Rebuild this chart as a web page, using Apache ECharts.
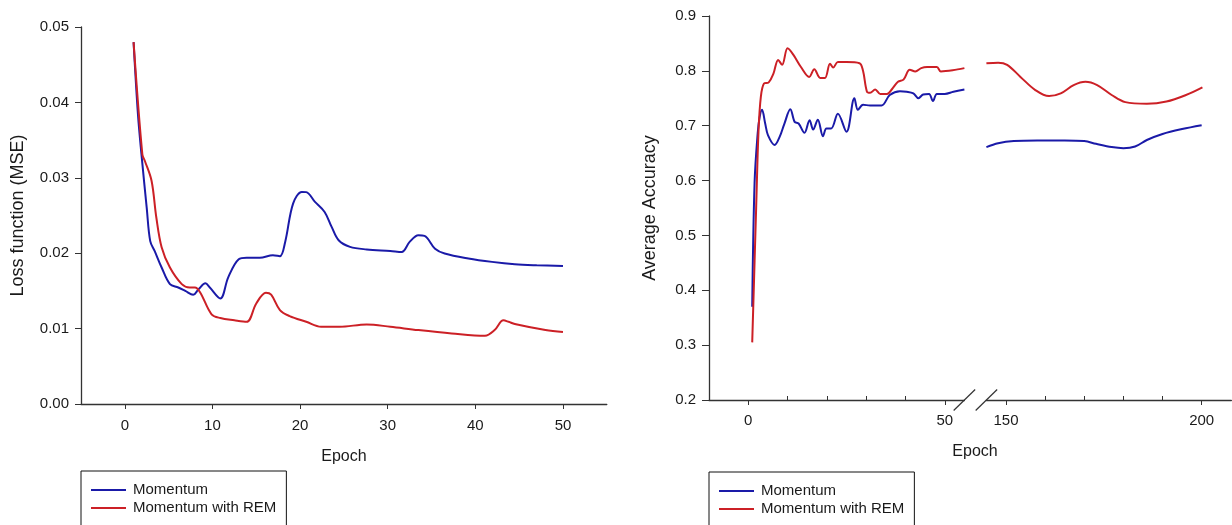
<!DOCTYPE html>
<html>
<head>
<meta charset="utf-8">
<script src="https://cdn.jsdelivr.net/npm/echarts@6/dist/echarts.min.js"></script>
<style>
html,body{margin:0;padding:0;background:#fff;}
#c{width:1232px;height:525px;}
</style>
</head>
<body>
<div id="c"></div>
<script>
// ---- Left chart: loss (MSE) vs epoch ----
const lossBlueEpoch = [1, 1.5, 1.9, 2.5, 2.9, 3.4, 4.2, 5.15, 6.1, 6.9, 7.8, 8.4, 9.2, 9.7, 10.9, 11.8, 13.0, 13.9, 15.4, 16.9, 17.7, 18.3, 19.2, 20.2, 20.7, 21.7, 22.8, 23.6, 24.4, 25.7, 27.6, 30.3, 31.6, 32.5, 33.5, 34.2, 35.4, 36.5, 39.2, 41.9, 44.5, 47.0, 50.0];
const lossBlue = [0.048, 0.0384, 0.0331, 0.026, 0.0216, 0.0203, 0.0181, 0.0159, 0.01545, 0.0150, 0.01448, 0.0152, 0.0160, 0.01545, 0.0140, 0.0168, 0.0192, 0.0194, 0.0194, 0.01973, 0.0196, 0.0215, 0.02658, 0.02812, 0.0281, 0.0268, 0.02547, 0.02349, 0.02172, 0.02084, 0.0205, 0.0203, 0.02017, 0.0215, 0.02238, 0.0223, 0.0206, 0.01996, 0.0193, 0.01885, 0.01854, 0.0184, 0.0183];
const lossRedEpoch = [1, 2.0, 2.3, 3.05, 3.6, 4.2, 5.15, 6.5, 7.4, 8.0, 8.6, 9.9, 10.9, 12.5, 13.9, 15.0, 16.1, 16.7, 17.7, 18.8, 20.7, 22.4, 24.5, 27.6, 30.3, 33.5, 37.3, 41.1, 42.2, 43.2, 43.8, 44.5, 48.0, 50.0];
const lossRed = [0.048, 0.0331, 0.0322, 0.0296, 0.0247, 0.0208, 0.0181, 0.0159, 0.01545, 0.01545, 0.0148, 0.0119, 0.0114, 0.0111, 0.0109, 0.01333, 0.01475, 0.0145, 0.01245, 0.01166, 0.0109, 0.01024, 0.01024, 0.01055, 0.01024, 0.0098, 0.00936, 0.00905, 0.0098, 0.0111, 0.0109, 0.0106, 0.0098, 0.00954];
const lossXTicks = [0, 10, 20, 30, 40, 50];

// ---- Right chart: average accuracy vs epoch (broken axis) ----
const accBlueEpochA = [1, 1.6, 2.4, 2.9, 3.5, 4.3, 5.0, 6.7, 8.0, 9.2, 10.7, 11.8, 12.8, 14.3, 15.6, 16.5, 17.7, 19.0, 19.9, 21.1, 22.8, 25.0, 27.0, 27.9, 29.2, 31.0, 33.9, 36.0, 38.6, 40.3, 42.0, 43.3, 44.5, 46.0, 47.0, 48.0, 50.0, 52.2, 55.0];
const accBlueA = [0.37, 0.596, 0.687, 0.716, 0.729, 0.704, 0.683, 0.665, 0.680, 0.704, 0.730, 0.707, 0.704, 0.687, 0.710, 0.693, 0.711, 0.681, 0.695, 0.695, 0.722, 0.689, 0.750, 0.729, 0.738, 0.737, 0.737, 0.756, 0.763, 0.762, 0.759, 0.750, 0.757, 0.758, 0.745, 0.758, 0.758, 0.762, 0.766];
const accRedEpochA = [1, 2.0, 2.6, 3.2, 4.0, 5.2, 6.4, 7.6, 8.6, 10.0, 11.4, 13.4, 15.5, 16.8, 18.3, 19.5, 20.8, 21.6, 22.8, 25.0, 28.3, 29.2, 30.2, 31.0, 32.3, 33.6, 35.3, 36.6, 38.1, 39.5, 41.1, 42.5, 44.0, 45.5, 48.0, 49.0, 52.0, 55.0];
const accRedA = [0.305, 0.55, 0.69, 0.753, 0.777, 0.779, 0.795, 0.820, 0.811, 0.841, 0.830, 0.807, 0.789, 0.803, 0.787, 0.787, 0.813, 0.806, 0.816, 0.816, 0.814, 0.800, 0.762, 0.760, 0.766, 0.758, 0.758, 0.767, 0.780, 0.784, 0.802, 0.799, 0.805, 0.807, 0.807, 0.799, 0.801, 0.805];
const accBlueEpochB = [145, 148, 152, 158, 165, 170, 173, 177, 180, 183, 186, 190, 195, 200];
const accBlueB = [0.661, 0.668, 0.672, 0.673, 0.673, 0.672, 0.667, 0.661, 0.659, 0.662, 0.674, 0.685, 0.694, 0.701];
const accRedEpochB = [145, 148, 150.3, 153.7, 157.5, 161, 164, 167.3, 170.3, 173.3, 177, 180.5, 186, 191, 196, 200.2];
const accRedB = [0.814, 0.815, 0.811, 0.789, 0.765, 0.754, 0.759, 0.774, 0.780, 0.774, 0.756, 0.743, 0.740, 0.744, 0.756, 0.770];
const accXLabelsA = [0, 50];
const accXMinorA = [10, 20, 30, 40];
const accXLabelsB = [150, 200];
const accXMinorB = [160, 170, 180, 190];

const seriesNames = ['Momentum', 'Momentum with REM'];
const BLUE = '#1a1aa8';
const RED = '#cc2026';
const AX = '#333333';
const TXT = '#1a1a1a';
const FONT = 'Liberation Sans, Arial, Helvetica, sans-serif';

const pairs = (xs, ys) => xs.map((x, i) => [x, ys[i]]);

function lineSeries(name, color, xi, yi, data) {
  return {
    type: 'line', name, xAxisIndex: xi, yAxisIndex: yi, data,
    smooth: 0.35, symbol: 'none', clip: true,
    lineStyle: { color, width: 2 }, itemStyle: { color },
    emphasis: { disabled: true }
  };
}

function legendAt(left, top) {
  return {
    left, top, orient: 'vertical', height: 60, data: seriesNames,
    borderColor: '#111', borderWidth: 1, padding: [11.5, 10, 12, 10],
    icon: 'rect', itemWidth: 35, itemHeight: 2, itemGap: 3, selectedMode: false,
    itemStyle: { borderWidth: 0 },
    textStyle: { fontSize: 15, color: TXT, fontFamily: FONT, lineHeight: 15, padding: [0, 0, 0, 2] }
  };
}

const chart = echarts.init(document.getElementById('c'), null, { renderer: 'canvas' });

const baseLine = { show: true, onZero: false, lineStyle: { color: AX, width: 1.3 } };
const labelStyle = { color: TXT, fontSize: 15, fontFamily: FONT };

const option = {
  animation: false,
  backgroundColor: '#ffffff',
  textStyle: { fontFamily: FONT },
  grid: [
    { left: 81, right: 625.2, top: 27, bottom: 121 },
    { left: 709, right: 267.6, top: 16, bottom: 125 },
    { left: 986.4, right: 0.6, top: 16, bottom: 125 }
  ],
  title: [{
    text: 'Epoch', left: 975, top: 444, textAlign: 'center', padding: 0,
    textStyle: { fontSize: 16, fontWeight: 'normal', color: TXT, fontFamily: FONT }
  }],
  xAxis: [
    { type: 'value', gridIndex: 0, min: -5, max: 55,
      name: 'Epoch', nameLocation: 'middle', nameGap: 45,
      nameTextStyle: { fontSize: 16, color: TXT, fontFamily: FONT },
      axisLine: baseLine,
      axisTick: { show: true, inside: false, length: 5, lineStyle: { color: AX }, customValues: lossXTicks },
      axisLabel: Object.assign({ margin: 14, customValues: lossXTicks }, labelStyle),
      splitLine: { show: false } },
    { type: 'value', gridIndex: 1, min: -10, max: 55,
      axisLine: baseLine,
      axisTick: { show: true, inside: false, length: 5, lineStyle: { color: AX }, customValues: accXLabelsA },
      axisLabel: Object.assign({ margin: 13, customValues: accXLabelsA }, labelStyle),
      splitLine: { show: false } },
    { type: 'value', gridIndex: 1, min: -10, max: 55, position: 'bottom',
      axisLine: { show: false, onZero: false },
      axisTick: { show: true, inside: true, length: 4, lineStyle: { color: AX }, customValues: accXMinorA },
      axisLabel: { show: false },
      splitLine: { show: false } },
    { type: 'value', gridIndex: 2, min: 145, max: 207.6,
      axisLine: baseLine,
      axisTick: { show: true, inside: false, length: 5, lineStyle: { color: AX }, customValues: accXLabelsB },
      axisLabel: Object.assign({ margin: 13, customValues: accXLabelsB }, labelStyle),
      splitLine: { show: false } },
    { type: 'value', gridIndex: 2, min: 145, max: 207.6, position: 'bottom',
      axisLine: { show: false, onZero: false },
      axisTick: { show: true, inside: true, length: 4, lineStyle: { color: AX }, customValues: accXMinorB },
      axisLabel: { show: false },
      splitLine: { show: false } }
  ],
  yAxis: [
    { type: 'value', gridIndex: 0, min: 0, max: 0.05, interval: 0.01,
      name: 'Loss function (MSE)', nameLocation: 'middle', nameGap: 54, nameRotate: 90,
      nameTextStyle: { fontSize: 18, color: TXT, fontFamily: FONT },
      axisLine: baseLine,
      axisTick: { show: true, inside: false, length: 6, lineStyle: { color: AX } },
      axisLabel: Object.assign({ margin: 12, formatter: v => v.toFixed(2) }, labelStyle),
      splitLine: { show: false } },
    { type: 'value', gridIndex: 1, min: 0.2, max: 0.9, interval: 0.1,
      name: 'Average Accuracy', nameLocation: 'middle', nameGap: 50, nameRotate: 90,
      nameTextStyle: { fontSize: 18, color: TXT, fontFamily: FONT },
      axisLine: baseLine,
      axisTick: { show: true, inside: false, length: 7, lineStyle: { color: AX } },
      axisLabel: Object.assign({ margin: 13, formatter: v => v.toFixed(1) }, labelStyle),
      splitLine: { show: false } },
    { type: 'value', gridIndex: 2, min: 0.2, max: 0.9, show: false }
  ],
  legend: [legendAt(81, 471), legendAt(709, 472)],
  series: [
    lineSeries(seriesNames[0], BLUE, 0, 0, pairs(lossBlueEpoch, lossBlue)),
    lineSeries(seriesNames[1], RED, 0, 0, pairs(lossRedEpoch, lossRed)),
    lineSeries(seriesNames[0], BLUE, 1, 1, pairs(accBlueEpochA, accBlueA)),
    lineSeries(seriesNames[1], RED, 1, 1, pairs(accRedEpochA, accRedA)),
    lineSeries(seriesNames[0], BLUE, 3, 2, pairs(accBlueEpochB, accBlueB)),
    lineSeries(seriesNames[1], RED, 3, 2, pairs(accRedEpochB, accRedB))
  ]
};

chart.setOption(option);

// axis-break slashes placed at the ends of the two axis segments
const endA = chart.convertToPixel({ xAxisIndex: 1, yAxisIndex: 1 }, [55, 0.2]);
const startB = chart.convertToPixel({ xAxisIndex: 3, yAxisIndex: 2 }, [145, 0.2]);
function slash(p) {
  return { type: 'line', silent: true,
    shape: { x1: p[0] - 10.75, y1: p[1] + 10.5, x2: p[0] + 10.75, y2: p[1] - 10.5 },
    style: { stroke: AX, lineWidth: 1.2 } };
}
chart.setOption({ graphic: [slash(endA), slash(startB)] });
</script>
</body>
</html>
